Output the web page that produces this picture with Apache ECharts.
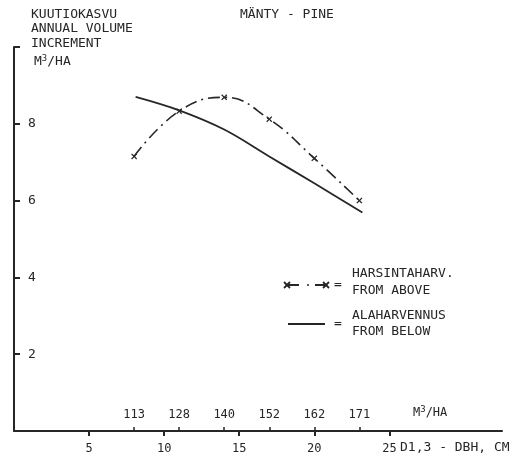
<!DOCTYPE html>
<html><head><meta charset="utf-8">
<script src="https://cdn.jsdelivr.net/npm/echarts@6/dist/echarts.min.js"></script>
<style>html,body{margin:0;padding:0;background:#fff}#c{width:526px;height:466px}</style>
</head><body><div id="c"></div>
<script>
// Data
const aboveX = [8, 11, 14, 17, 20, 23];
const fromAbove = [7.15, 8.33, 8.69, 8.12, 7.1, 6.0];
const belowX = [8.1, 11, 14, 17, 20, 23.2];
const fromBelow = [8.7, 8.35, 7.85, 7.15, 6.45, 5.69];
const volumeTicks = [8, 11, 14, 17, 20, 23];
const volumeLabels = ['113', '128', '140', '152', '162', '171'];
const dbhTicks = [5, 10, 15, 20, 25];
const yTicks = [2, 4, 6, 8, 10];
const yLabels = [2, 4, 6, 8];

const ink = '#262626';
const font = 'DejaVu Sans Mono';
const volMap = {};
volumeTicks.forEach((v, i) => volMap[v] = volumeLabels[i]);

function xMark(cx, cy, r) {
  return [
    {type: 'line', shape: {x1: cx - r, y1: cy - r, x2: cx + r, y2: cy + r}, style: {stroke: ink, lineWidth: 1.8}},
    {type: 'line', shape: {x1: cx - r, y1: cy + r, x2: cx + r, y2: cy - r}, style: {stroke: ink, lineWidth: 1.8}}
  ];
}

const chart = echarts.init(document.getElementById('c'));
const crossPath = 'path://M0,1.5L1.5,0L5,3.5L8.5,0L10,1.5L6.5,5L10,8.5L8.5,10L5,6.5L1.5,10L0,8.5L3.5,5Z';
const supRich = {s: {fontSize: 9, verticalAlign: 'top', padding: [0, 0, 7, 0], fontFamily: font, color: ink}};
chart.setOption({
  animation: false,
  backgroundColor: '#fff',
  textStyle: {fontFamily: font, color: ink},
  grid: {left: 14, right: 24, top: 47, bottom: 35, containLabel: false, outerBoundsMode: 'none'},
  xAxis: [{
    type: 'value', min: 0, max: 32.5, interval: 5,
    axisLine: {lineStyle: {color: ink, width: 2}},
    axisTick: {show: true, length: 5, lineStyle: {color: ink, width: 2}, customValues: dbhTicks},
    axisLabel: {color: ink, fontSize: 12, fontFamily: font, margin: 12, customValues: dbhTicks},
    splitLine: {show: false}
  }, {
    type: 'value', min: 0, max: 32.5, position: 'bottom',
    axisLine: {show: false},
    axisTick: {show: true, inside: true, length: 4, lineStyle: {color: ink, width: 1.5}, customValues: volumeTicks},
    axisLabel: {inside: true, color: ink, fontSize: 12, fontFamily: font, margin: 10,
      customValues: volumeTicks, formatter: v => volMap[v] || ''},
    splitLine: {show: false}
  }],
  yAxis: {
    type: 'value', min: 0, max: 10, interval: 2,
    axisLine: {lineStyle: {color: ink, width: 2}},
    axisTick: {show: true, inside: true, length: 6, lineStyle: {color: ink, width: 2}, customValues: yTicks},
    axisLabel: {inside: true, color: ink, fontSize: 13, fontFamily: font, margin: 14, customValues: yLabels},
    splitLine: {show: false}
  },
  title: [
    {text: 'KUUTIOKASVU\nANNUAL VOLUME\nINCREMENT', left: 26, top: 2,
      textStyle: {fontFamily: font, fontSize: 13, fontWeight: 'normal', color: ink, lineHeight: 14.5}},
    {text: 'M{s|3}/HA', left: 29, top: 49,
      textStyle: {fontFamily: font, fontSize: 13, fontWeight: 'normal', color: ink, rich: supRich}},
    {text: 'MÄNTY - PINE', left: 235, top: 3,
      textStyle: {fontFamily: font, fontSize: 13, fontWeight: 'normal', color: ink}},
    {text: 'M{s|3}/HA', left: 408, top: 400,
      textStyle: {fontFamily: font, fontSize: 12, fontWeight: 'normal', color: ink, rich: supRich}},
    {text: 'D1,3 - DBH, CM', left: 395, top: 436,
      textStyle: {fontFamily: font, fontSize: 13, fontWeight: 'normal', color: ink}}
  ],
  series: [{
    name: 'HARSINTAHARV. FROM ABOVE', type: 'line', smooth: 0.45,
    data: aboveX.map((x, i) => [x, fromAbove[i]]),
    symbol: crossPath, symbolSize: 6,
    itemStyle: {color: ink},
    lineStyle: {color: ink, width: 1.6, type: [12, 5, 2, 5]}
  }, {
    name: 'ALAHARVENNUS FROM BELOW', type: 'line', smooth: 0.35,
    data: belowX.map((x, i) => [x, fromBelow[i]]),
    symbol: 'none',
    lineStyle: {color: ink, width: 1.8}
  }],
  graphic: [
    {type: 'line', shape: {x1: 287, y1: 285, x2: 299, y2: 285}, style: {stroke: ink, lineWidth: 2}},
    {type: 'circle', shape: {cx: 308, cy: 285, r: 1}, style: {fill: ink}},
    {type: 'line', shape: {x1: 315, y1: 285, x2: 326, y2: 285}, style: {stroke: ink, lineWidth: 2}},
    ...xMark(287, 285, 3),
    ...xMark(326, 285, 3),
    {type: 'text', left: 334, top: 278, style: {text: '=', font: '13px "DejaVu Sans Mono"', fill: ink}},
    {type: 'text', left: 352, top: 265, style: {text: 'HARSINTAHARV.\nFROM ABOVE', font: '13px "DejaVu Sans Mono"', fill: ink, lineHeight: 17}},
    {type: 'line', shape: {x1: 288, y1: 324, x2: 325, y2: 324}, style: {stroke: ink, lineWidth: 1.8}},
    {type: 'text', left: 334, top: 317, style: {text: '=', font: '13px "DejaVu Sans Mono"', fill: ink}},
    {type: 'text', left: 352, top: 308, style: {text: 'ALAHARVENNUS\nFROM BELOW', font: '13px "DejaVu Sans Mono"', fill: ink, lineHeight: 16}}
  ]
});
</script></body></html>
